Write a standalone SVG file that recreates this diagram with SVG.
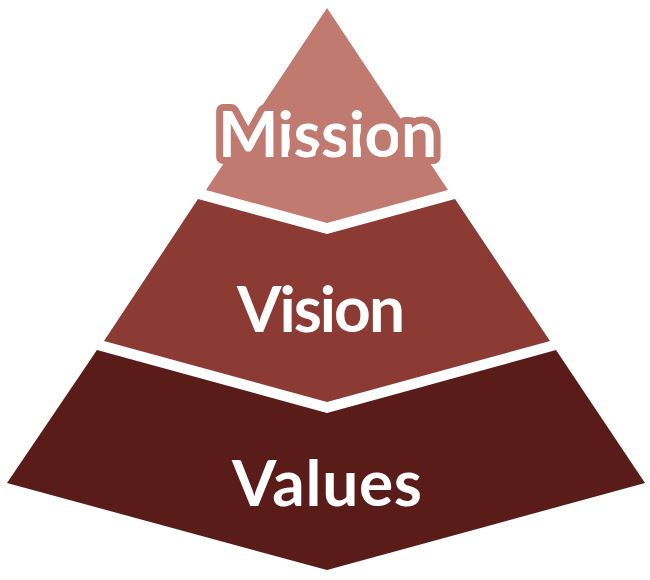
<svg xmlns="http://www.w3.org/2000/svg" width="650" height="580" viewBox="0 0 650 580">
<style>
.lbl{font-family:"Lato","Liberation Sans",sans-serif;font-weight:bold;font-size:64px;fill:#ffffff;text-anchor:middle}
.halo{stroke:#C17A70;stroke-width:14;stroke-linejoin:round;paint-order:stroke fill}
</style>
<rect width="650" height="580" fill="#ffffff"/>
<g id="values">
<polygon points="97,350 327,413 556,350 645,483 327,570 7,483" fill="#5A1C18"/>
<text class="lbl" x="327" y="506" textLength="190">Values</text>
</g>
<g id="vision">
<polygon points="198,199 327,234 455,199 550,341 327,402 104,341" fill="#8B3A34"/>
<text class="lbl" x="321" y="332" textLength="168">Vision</text>
</g>
<g id="mission">
<polygon points="327,8 448,190 327,223 206,190" fill="#C17A70"/>
<text class="lbl halo" x="327.5" y="157" textLength="219">Mission</text>
</g>
<g id="connectors"/>
</svg>
